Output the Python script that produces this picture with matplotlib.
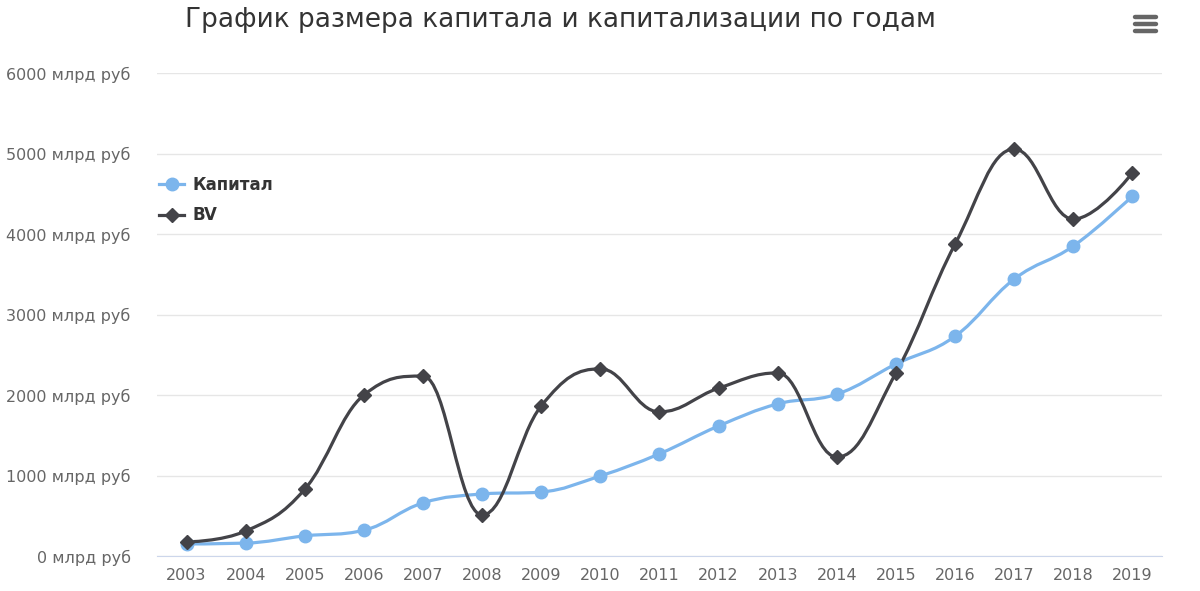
import matplotlib
matplotlib.use("Agg")
import matplotlib.pyplot as plt
from matplotlib.path import Path
from matplotlib.patches import PathPatch
from matplotlib.lines import Line2D

plt.rcParams['font.family'] = ['DejaVu Sans']

years = [2003, 2004, 2005, 2006, 2007, 2008, 2009, 2010, 2011,
         2012, 2013, 2014, 2015, 2016, 2017, 2018, 2019]
kapital = [150, 160, 250, 320, 660, 770, 795, 995, 1270,
           1615, 1890, 2010, 2385, 2730, 3440, 3850, 4470]
bv = [175, 310, 830, 2000, 2235, 510, 1865, 2325, 1790,
      2085, 2275, 1230, 2275, 3875, 5055, 4185, 4760]
yticks = [0, 1000, 2000, 3000, 4000, 5000, 6000]

title = "График размера капитала и капитализации по годам"
names = ["Капитал", "BV"]
colors = ["#7cb5ec", "#434348"]


def spline_path(xs, ys, smoothing=1.5):
    # highcharts-style spline: bezier control points per point
    denom = smoothing + 1
    n = len(xs)
    left = [(xs[i], ys[i]) for i in range(n)]
    right = [(xs[i], ys[i]) for i in range(n)]
    for i in range(1, n - 1):
        px, py = xs[i], ys[i]
        lx, ly = xs[i - 1], ys[i - 1]
        nx, ny = xs[i + 1], ys[i + 1]
        lcx = (smoothing * px + lx) / denom
        lcy = (smoothing * py + ly) / denom
        rcx = (smoothing * px + nx) / denom
        rcy = (smoothing * py + ny) / denom
        if rcx != lcx:
            corr = (rcy - lcy) * (rcx - px) / (rcx - lcx) + py - rcy
            lcy += corr
            rcy += corr
        if lcy > ly and lcy > py:
            lcy = max(ly, py)
            rcy = 2 * py - lcy
        elif lcy < ly and lcy < py:
            lcy = min(ly, py)
            rcy = 2 * py - lcy
        if rcy > ny and rcy > py:
            rcy = max(ny, py)
            lcy = 2 * py - rcy
        elif rcy < ny and rcy < py:
            rcy = min(ny, py)
            lcy = 2 * py - rcy
        left[i] = (lcx, lcy)
        right[i] = (rcx, rcy)
    verts = [(xs[0], ys[0])]
    codes = [Path.MOVETO]
    for i in range(1, n):
        verts += [right[i - 1], left[i], (xs[i], ys[i])]
        codes += [Path.CURVE4] * 3
    return Path(verts, codes)


fig = plt.figure(figsize=(12, 5.91), dpi=100)
ax = fig.add_axes([157 / 1200, 35 / 591, 1005 / 1200, 483 / 591])

for vals, col, mk in [(kapital, colors[0], 'o'), (bv, colors[1], 'D')]:
    ax.add_patch(PathPatch(spline_path(years, vals), facecolor='none',
                           edgecolor=col, lw=2.3, zorder=3))
    ax.plot(years, vals, ls='none', marker=mk, color=col,
            markersize=9 if mk == 'o' else 7, zorder=4)

ax.set_xlim(2002.5, 2019.5)
ax.set_ylim(0, 6000)
ax.set_yticks(yticks)
ax.set_yticklabels([f"{v} млрд руб" for v in yticks])
ax.set_xticks(years)
ax.set_xticklabels([str(y) for y in years])
ax.tick_params(axis='both', length=0, labelsize=11.5, colors='#666666')
ax.tick_params(axis='y', pad=19)
ax.tick_params(axis='x', pad=9)
ax.grid(axis='y', color='#e6e6e6', lw=1)
ax.set_axisbelow(True)
for s in ['top', 'right', 'left']:
    ax.spines[s].set_visible(False)
ax.spines['bottom'].set_color('#ccd6eb')

fig.text(560 / 1200, 1 - 20 / 591, title, ha='center', va='center',
         fontsize=19, color='#333333')

handles = [Line2D([], [], color=colors[0], lw=2.3, marker='o', markersize=9),
           Line2D([], [], color=colors[1], lw=2.3, marker='D', markersize=7)]
leg = fig.legend(handles, names, loc='upper left',
                 bbox_to_anchor=(144 / 1200, 1 - 161 / 591), frameon=False,
                 handlelength=1.5, handletextpad=0.5, labelspacing=0.75,
                 prop={'size': 12, 'weight': 'bold'})
for t in leg.get_texts():
    t.set_color('#333333')

# menu icon
for yy in [17, 24, 31]:
    fig.add_artist(Line2D([1135 / 1200, 1156 / 1200], [1 - yy / 591] * 2,
                          color='#666666', lw=3.2, solid_capstyle='round'))

fig.savefig("out.png", dpi=100, facecolor='white')
